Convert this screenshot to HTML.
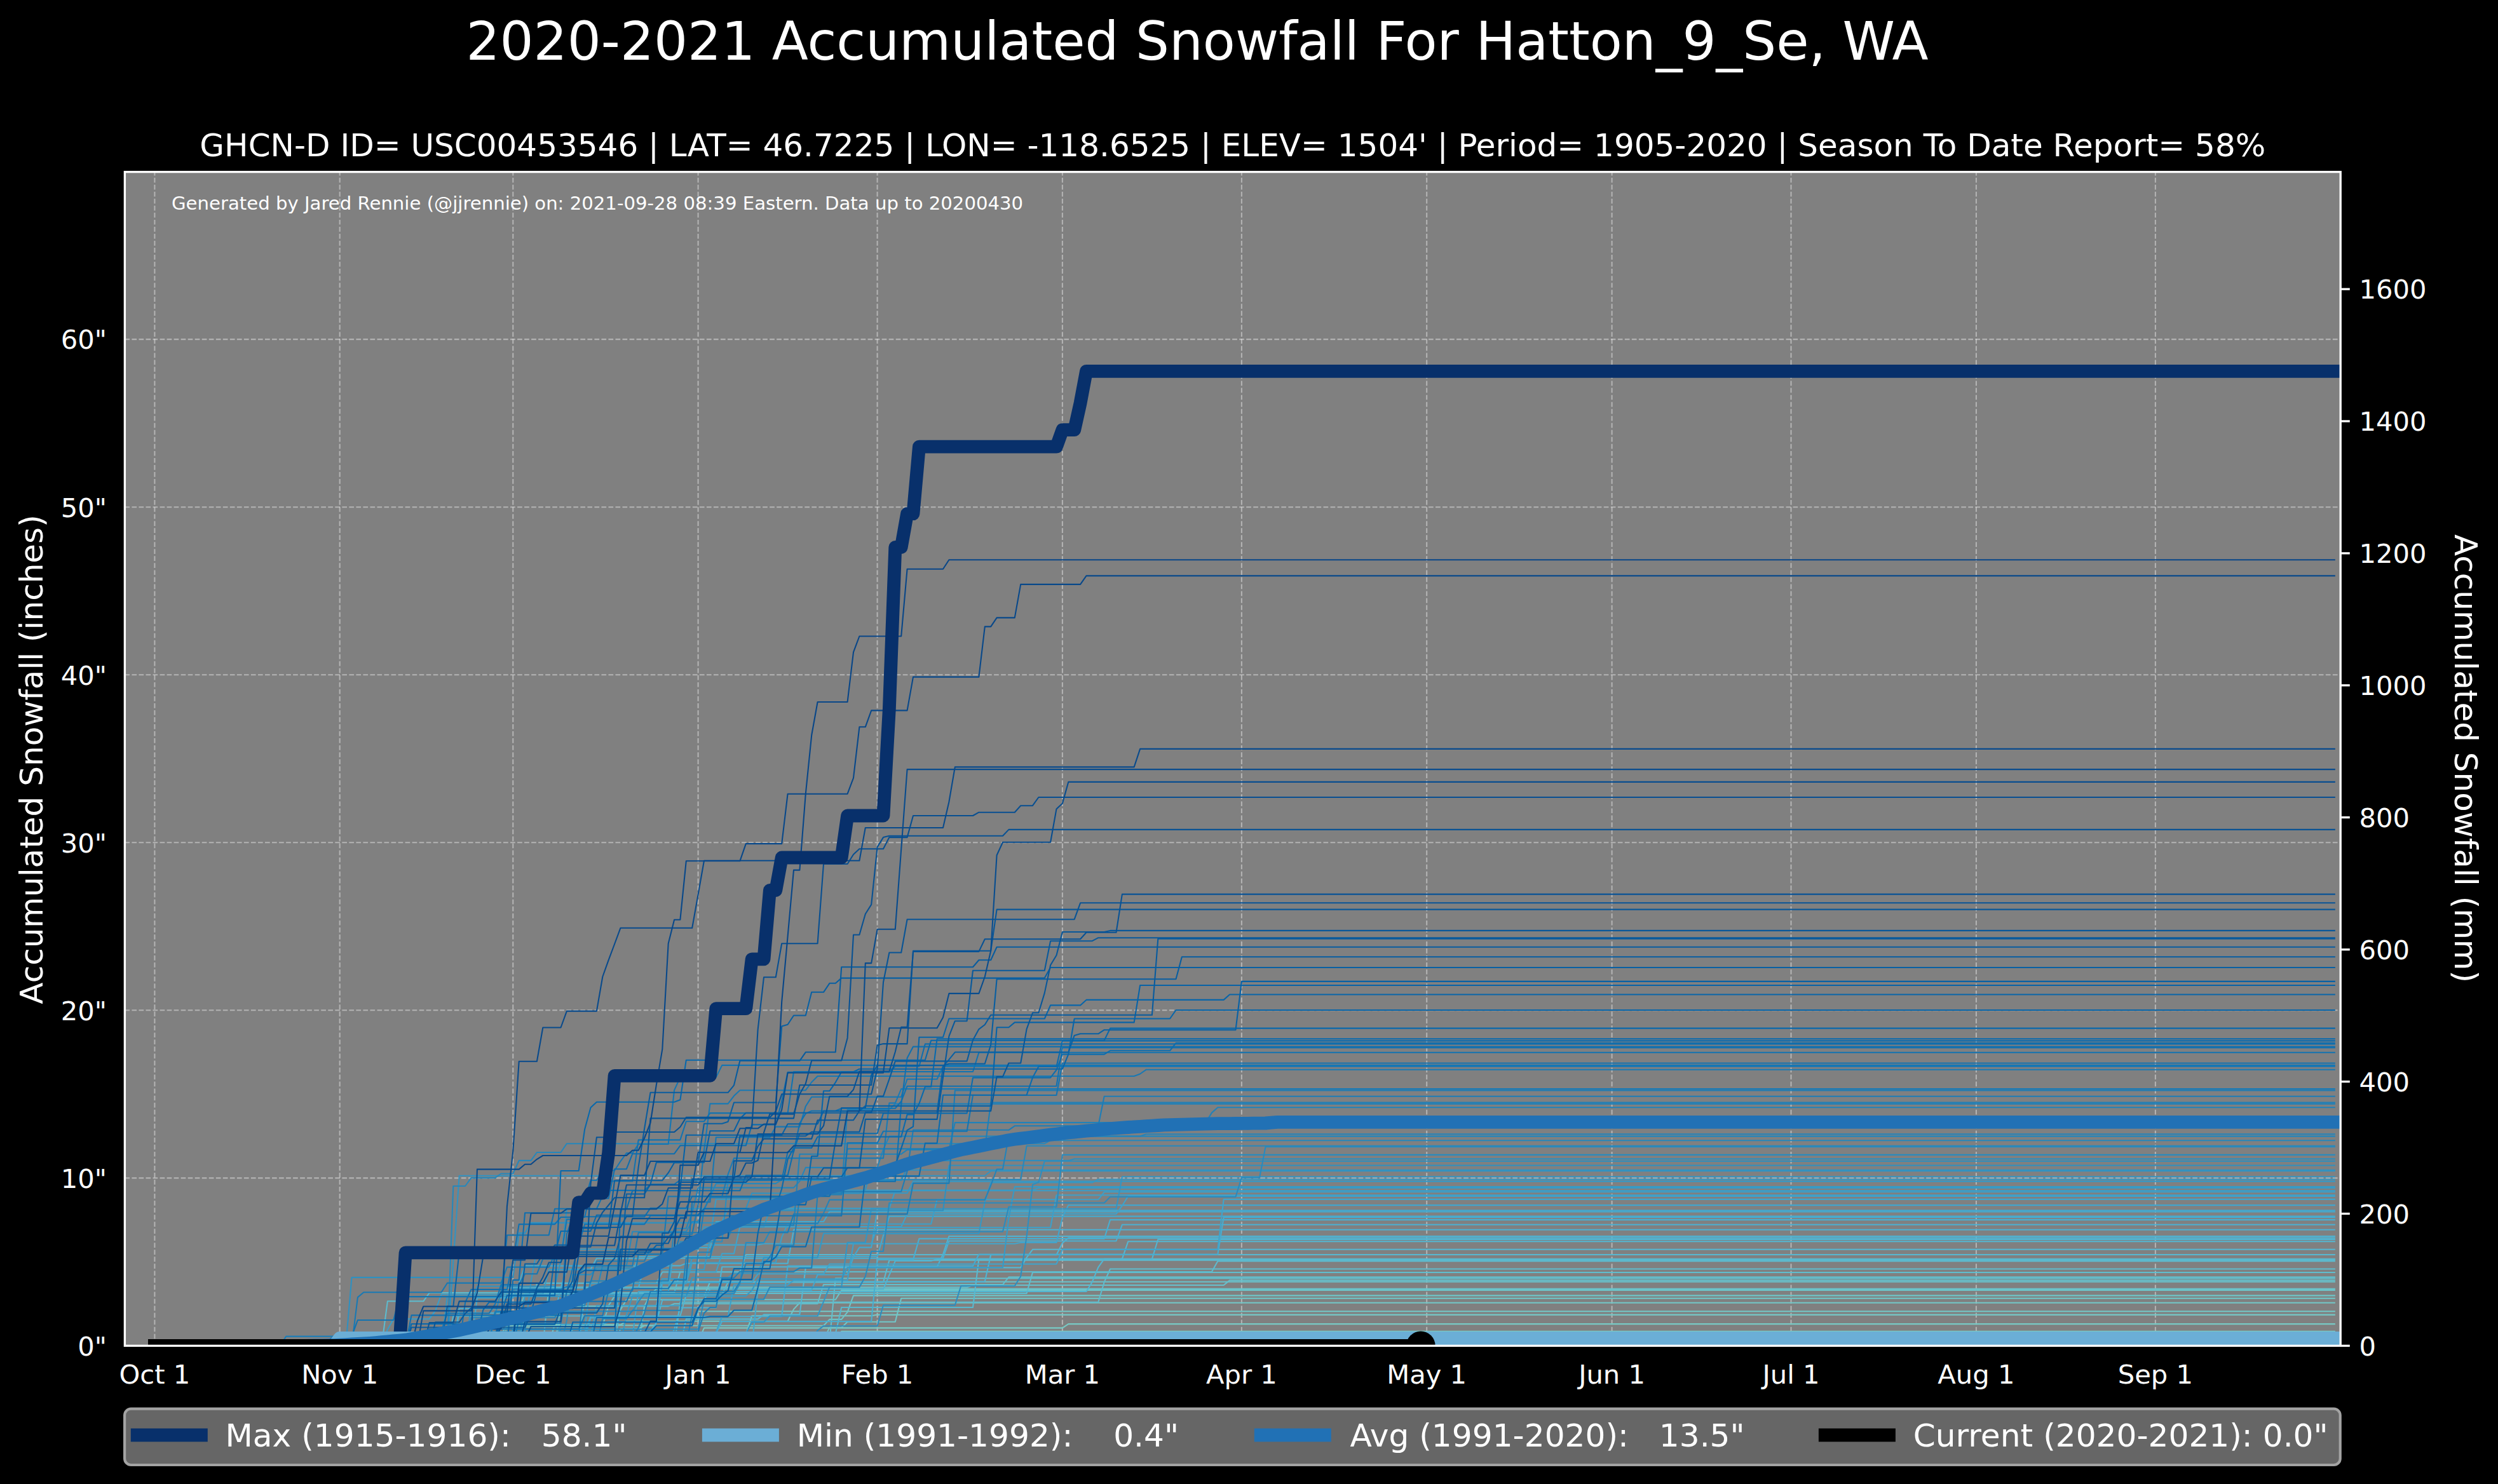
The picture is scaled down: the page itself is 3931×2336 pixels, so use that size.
<!DOCTYPE html><html><head><meta charset="utf-8"><title>Accumulated Snowfall</title>
<style>html,body{margin:0;padding:0;background:#000;}svg{display:block;}text{font-family:"DejaVu Sans","Liberation Sans",sans-serif;fill:#fff;}</style></head><body>
<svg width="3931" height="2336" viewBox="0 0 3931 2336">
<rect width="3931" height="2336" fill="#000"/>
<defs><clipPath id="ax"><rect x="196.4" y="270.6" width="3486.7999999999997" height="1847.8000000000002"/></clipPath></defs>
<rect x="196.4" y="270.6" width="3486.7999999999997" height="1847.8000000000002" fill="#808080"/>
<g clip-path="url(#ax)">
<g stroke="#fff" stroke-width="2.08" stroke-opacity="0.4" stroke-dasharray="7.7 3.33" fill="none">
<path d="M243.4 2118.4 V270.6"/>
<path d="M534.7 2118.4 V270.6"/>
<path d="M807.3 2118.4 V270.6"/>
<path d="M1098.6 2118.4 V270.6"/>
<path d="M1380.6 2118.4 V270.6"/>
<path d="M1671.9 2118.4 V270.6"/>
<path d="M1953.9 2118.4 V270.6"/>
<path d="M2245.2 2118.4 V270.6"/>
<path d="M2536.6 2118.4 V270.6"/>
<path d="M2818.5 2118.4 V270.6"/>
<path d="M3109.9 2118.4 V270.6"/>
<path d="M3391.9 2118.4 V270.6"/>
<path d="M196.4 2118.4 H3683.2"/>
<path d="M196.4 1854.4 H3683.2"/>
<path d="M196.4 1590.3 H3683.2"/>
<path d="M196.4 1326.2 H3683.2"/>
<path d="M196.4 1062.2 H3683.2"/>
<path d="M196.4 798.2 H3683.2"/>
<path d="M196.4 534.1 H3683.2"/>
</g>
<g fill="none" stroke-width="2.08" stroke-linejoin="round" stroke-linecap="square">
<path stroke="#79cbc5" d="M243.4 2118.4 L1126.8 2118.4 L1136.2 2114.8 L1314.8 2114.8 L1324.2 2095.7 L3673.8 2095.7"/>
<path stroke="#77cac5" d="M243.4 2118.4 L948.3 2118.4 L957.7 2112.4 L1098.6 2112.4 L1108 2090.4 L1671.9 2090.4 L1681.3 2084.1 L3673.8 2084.1"/>
<path stroke="#75c9c6" d="M243.4 2118.4 L854.3 2118.4 L863.7 2100.4 L1173.8 2100.4 L1183.2 2071.3 L1371.2 2071.3 L1380.6 2069.6 L3673.8 2069.6"/>
<path stroke="#73c8c7" d="M243.4 2118.4 L685.1 2118.4 L694.5 2100.7 L788.5 2100.7 L797.9 2086.3 L1089.2 2086.3 L1098.6 2064.3 L3673.8 2064.3"/>
<path stroke="#72c7c7" d="M243.4 2118.4 L760.3 2118.4 L769.7 2114.1 L863.7 2114.1 L873.1 2085.4 L976.5 2085.4 L985.9 2079.7 L1239.6 2079.7 L1249 2060.9 L1258.4 2050.8 L3673.8 2050.8"/>
<path stroke="#70c6c8" d="M243.4 2118.4 L844.9 2118.4 L854.3 2108.7 L1296 2108.7 L1305.4 2089.9 L1324.2 2089.9 L1333.6 2080.8 L1408.8 2080.8 L1418.2 2043.7 L3673.8 2043.7"/>
<path stroke="#6ec5c8" d="M243.4 2118.4 L967.1 2118.4 L976.5 2091.5 L1004.7 2091.5 L1014.1 2086.7 L1296 2086.7 L1305.4 2076.9 L1324.2 2076.9 L1333.6 2065.3 L1343 2039.4 L3673.8 2039.4"/>
<path stroke="#6cc4c9" d="M243.4 2118.4 L882.5 2118.4 L891.9 2103.8 L901.3 2092.8 L967.1 2092.8 L976.5 2061.5 L985.9 2045.8 L1314.8 2045.8 L1324.2 2031 L3673.8 2031"/>
<path stroke="#6ac3ca" d="M243.4 2118.4 L1004.7 2118.4 L1014.1 2056.1 L1023.5 2037.9 L1032.9 2028.9 L3673.8 2028.9"/>
<path stroke="#68c1ca" d="M243.4 2118.4 L788.5 2118.4 L797.9 2088.7 L920.1 2088.7 L929.5 2087.3 L948.3 2087.3 L957.7 2055 L967.1 2040.4 L1108 2040.4 L1117.4 2017.8 L3673.8 2017.8"/>
<path stroke="#66c0cb" d="M243.4 2118.4 L854.3 2118.4 L863.7 2026.4 L1521.6 2026.4 L1531 2023 L1925.7 2023 L1935.1 2015.4 L3673.8 2015.4"/>
<path stroke="#64bfcc" d="M243.4 2118.4 L797.9 2118.4 L807.3 2111 L1305.4 2111 L1314.8 2012.3 L3673.8 2012.3"/>
<path stroke="#62becc" d="M243.4 2118.4 L873.1 2118.4 L882.5 2056.1 L1051.7 2056.1 L1061.1 2052.3 L1286.6 2052.3 L1296 2022.1 L1578 2022.1 L1587.4 2010.4 L3673.8 2010.4"/>
<path stroke="#60bdcd" d="M243.4 2118.4 L807.3 2118.4 L816.7 2061.9 L826.1 2035.9 L1615.6 2035.9 L1625 2003 L3673.8 2003"/>
<path stroke="#5fbccd" d="M243.4 2118.4 L1061.1 2118.4 L1070.4 2049.8 L1728.3 2049.8 L1737.7 2018.1 L1747.1 1997.5 L3673.8 1997.5"/>
<path stroke="#5dbbce" d="M243.4 2118.4 L600.5 2118.4 L609.9 2048.3 L666.3 2048.3 L675.7 2035 L1061.1 2035 L1070.4 2002 L1906.9 2002 L1916.3 1985.3 L3673.8 1985.3"/>
<path stroke="#5bbacf" d="M243.4 2118.4 L910.7 2118.4 L920.1 2037.5 L1136.2 2037.5 L1145.6 2018.5 L1390 2018.5 L1399.4 1983.7 L3673.8 1983.7"/>
<path stroke="#59b9cf" d="M243.4 2118.4 L873.1 2118.4 L882.5 2099.3 L1314.8 2099.3 L1324.2 2058 L1531 2058 L1540.4 1981.9 L3673.8 1981.9"/>
<path stroke="#57b8d0" d="M243.4 2118.4 L816.7 2118.4 L826.1 2072.2 L835.5 2072.2 L844.9 2019.9 L1032.9 2019.9 L1042.3 2002.4 L1164.4 2002.4 L1173.8 1975 L3673.8 1975"/>
<path stroke="#55b7d1" d="M243.4 2118.4 L1070.4 2118.4 L1079.8 2076.4 L1192.6 2076.4 L1202 2069.3 L1258.4 2069.3 L1267.8 1995.4 L1606.2 1995.4 L1615.6 1979.5 L1625 1966.8 L3673.8 1966.8"/>
<path stroke="#53b6d1" d="M243.4 2118.4 L703.9 2118.4 L713.3 2071.5 L1070.4 2071.5 L1079.8 2038.4 L1089.2 2033 L1709.5 2033 L1718.9 2017.7 L1728.3 1994.8 L1737.7 1981.7 L1765.9 1981.7 L1775.3 1954.2 L3673.8 1954.2"/>
<path stroke="#51b5d2" d="M243.4 2118.4 L1014.1 2118.4 L1023.5 2095 L1032.9 2082.3 L1042.3 2046.5 L1108 2046.5 L1117.4 2029.3 L1390 2029.3 L1399.4 2007.1 L1408.8 1984.8 L1465.2 1984.8 L1474.6 1981.9 L1812.9 1981.9 L1822.3 1951 L3673.8 1951"/>
<path stroke="#4fb4d3" d="M243.4 2118.4 L967.1 2118.4 L976.5 2055 L1032.9 2055 L1042.3 2017.6 L1549.8 2017.6 L1559.2 1975.3 L1662.5 1975.3 L1671.9 1956.8 L1681.3 1948.6 L3673.8 1948.6"/>
<path stroke="#4eb3d3" d="M243.4 2118.4 L854.3 2118.4 L863.7 2115.8 L873.1 2108.6 L1051.7 2108.6 L1061.1 2093 L1070.4 2058.5 L1126.8 2058.5 L1136.2 1994.2 L1474.6 1994.2 L1484 1974.5 L1493.4 1946 L3673.8 1946"/>
<path stroke="#4cb1d2" d="M243.4 2118.4 L713.3 2118.4 L722.7 2059.7 L788.5 2059.7 L797.9 2027.4 L1004.7 2027.4 L1014.1 1992.4 L1070.4 1992.4 L1079.8 1988.7 L1239.6 1988.7 L1249 1935.7 L3673.8 1935.7"/>
<path stroke="#4bafd1" d="M243.4 2118.4 L713.3 2118.4 L722.7 2066.9 L873.1 2066.9 L882.5 2027.4 L891.9 1998 L929.5 1998 L938.9 1980.7 L1484 1980.7 L1493.4 1953.5 L1756.5 1953.5 L1765.9 1927.8 L3673.8 1927.8"/>
<path stroke="#49aed0" d="M243.4 2118.4 L816.7 2118.4 L826.1 2098.7 L1126.8 2098.7 L1136.2 2080.1 L1371.2 2080.1 L1380.6 1982.9 L1437 1982.9 L1446.4 1949.9 L1737.7 1949.9 L1747.1 1920.1 L3673.8 1920.1"/>
<path stroke="#48accf" d="M243.4 2118.4 L910.7 2118.4 L920.1 2098.4 L929.5 2072.2 L1230.2 2072.2 L1239.6 1992.8 L1531 1992.8 L1540.4 1974.6 L1916.3 1974.6 L1925.7 1916.1 L3673.8 1916.1"/>
<path stroke="#46aace" d="M243.4 2118.4 L891.9 2118.4 L901.3 2107.3 L920.1 2107.3 L929.5 2074.4 L967.1 2074.4 L976.5 2029.3 L985.9 2004.7 L995.3 2004.7 L1004.7 1978 L1380.6 1978 L1390 1945 L1399.4 1914.6 L3673.8 1914.6"/>
<path stroke="#45a9cd" d="M243.4 2118.4 L741.5 2118.4 L750.9 2042.9 L807.3 2042.9 L816.7 2019.5 L826.1 1992.6 L1051.7 1992.6 L1061.1 1963.9 L1117.4 1963.9 L1126.8 1923 L1296 1923 L1305.4 1907.4 L3673.8 1907.4"/>
<path stroke="#43a7cd" d="M243.4 2118.4 L1183.2 2118.4 L1192.6 2030.6 L1277.2 2030.6 L1286.6 2006.5 L1333.6 2006.5 L1343 1978.6 L1352.4 1963.6 L1371.2 1963.6 L1380.6 1905.3 L3673.8 1905.3"/>
<path stroke="#42a5cc" d="M243.4 2118.4 L985.9 2118.4 L995.3 2103.9 L1004.7 2033.1 L1051.7 2033.1 L1061.1 1959.6 L1192.6 1959.6 L1202 1957.7 L1596.8 1957.7 L1606.2 1955.9 L1662.5 1955.9 L1671.9 1916.4 L1681.3 1897.1 L3673.8 1897.1"/>
<path stroke="#40a4cb" d="M243.4 2118.4 L873.1 2118.4 L882.5 2084.7 L948.3 2084.7 L957.7 2080.5 L1032.9 2080.5 L1042.3 2019 L1183.2 2019 L1192.6 2005.3 L1296 2005.3 L1305.4 1989.7 L1662.5 1989.7 L1671.9 1966.9 L1916.3 1966.9 L1925.7 1887.9 L3673.8 1887.9"/>
<path stroke="#3fa2ca" d="M243.4 2118.4 L835.5 2118.4 L844.9 2105.4 L929.5 2105.4 L938.9 2055.2 L1070.4 2055.2 L1079.8 2002.2 L1126.8 2002.2 L1136.2 1973.4 L1155 1973.4 L1164.4 1931.1 L1418.2 1931.1 L1427.6 1910.9 L1756.5 1910.9 L1765.9 1898 L1775.3 1882.9 L3673.8 1882.9"/>
<path stroke="#3da0c9" d="M243.4 2118.4 L1117.4 2118.4 L1126.8 2096.9 L1136.2 2072.4 L1145.6 2072.4 L1155 2022.8 L1239.6 2022.8 L1249 2015.3 L1333.6 2015.3 L1343 1957.7 L1371.2 1957.7 L1380.6 1932.2 L1653.1 1932.2 L1662.5 1881.3 L3673.8 1881.3"/>
<path stroke="#3c9fc8" d="M243.4 2118.4 L797.9 2118.4 L807.3 2092.6 L920.1 2092.6 L929.5 2020.4 L1079.8 2020.4 L1089.2 1987.5 L1220.8 1987.5 L1230.2 1947.7 L1239.6 1926.7 L1465.2 1926.7 L1474.6 1888.3 L1728.3 1888.3 L1737.7 1876.3 L3673.8 1876.3"/>
<path stroke="#3a9dc7" d="M243.4 2118.4 L600.5 2118.4 L609.9 2092.7 L619.3 2076.2 L675.7 2076.2 L685.1 2063.2 L694.5 2037.5 L1032.9 2037.5 L1042.3 2013.1 L1079.8 2013.1 L1089.2 1979.5 L1117.4 1979.5 L1126.8 1949.3 L1136.2 1923.1 L1145.6 1902.1 L1399.4 1902.1 L1408.8 1874.2 L3673.8 1874.2"/>
<path stroke="#399bc6" d="M243.4 2118.4 L816.7 2118.4 L826.1 2036.8 L854.3 2036.8 L863.7 1998.5 L1108 1998.5 L1117.4 1949.3 L1126.8 1887.7 L1249 1887.7 L1258.4 1873.6 L1625 1873.6 L1634.4 1869.9 L3673.8 1869.9"/>
<path stroke="#379ac5" d="M243.4 2118.4 L619.3 2118.4 L628.7 2117 L976.5 2117 L985.9 2069.3 L995.3 2040.1 L1173.8 2040.1 L1183.2 2031.2 L1192.6 2013.4 L1324.2 2013.4 L1333.6 1995.2 L1578 1995.2 L1587.4 1917.7 L1596.8 1868.1 L3673.8 1868.1"/>
<path stroke="#3698c5" d="M243.4 2118.4 L732.1 2118.4 L741.5 2096.4 L826.1 2096.4 L835.5 2018 L844.9 1966.5 L1098.6 1966.5 L1108 1931.5 L1202 1931.5 L1211.4 1904.6 L1249 1904.6 L1258.4 1878 L1427.6 1878 L1437 1859.6 L3673.8 1859.6"/>
<path stroke="#3497c4" d="M243.4 2118.4 L694.5 2118.4 L703.9 2040.6 L1079.8 2040.6 L1089.2 2011.2 L1145.6 2011.2 L1155 2004.5 L1192.6 2004.5 L1202 1979.6 L1286.6 1979.6 L1296 1941.9 L1540.4 1941.9 L1549.8 1892.1 L1559.2 1861.5 L1718.9 1861.5 L1728.3 1856.5 L3673.8 1856.5"/>
<path stroke="#3395c3" d="M243.4 2118.4 L1032.9 2118.4 L1042.3 2099 L1173.8 2099 L1183.2 2081.1 L1202 2081.1 L1211.4 2071.5 L1286.6 2071.5 L1296 2049 L1305.4 2026 L1324.2 2026 L1333.6 1955.8 L1361.8 1955.8 L1371.2 1902.8 L1756.5 1902.8 L1765.9 1852.2 L3673.8 1852.2"/>
<path stroke="#3193c2" d="M243.4 2118.4 L703.9 2118.4 L713.3 1986.4 L722.7 1850.7 L1549.8 1850.7 L1559.2 1843.3 L3673.8 1843.3"/>
<path stroke="#3092c1" d="M243.4 2118.4 L732.1 2118.4 L741.5 2057.7 L750.9 2024.7 L873.1 2024.7 L882.5 1984.5 L891.9 1902.6 L1173.8 1902.6 L1183.2 1878.4 L1352.4 1878.4 L1361.8 1872.9 L1371.2 1841.7 L3673.8 1841.7"/>
<path stroke="#2f90c0" d="M243.4 2118.4 L544.1 2118.4 L553.5 2010.9 L807.3 2010.9 L816.7 1941.1 L826.1 1941.1 L835.5 1924.9 L1164.4 1924.9 L1173.8 1905.5 L1484 1905.5 L1493.4 1834.5 L3673.8 1834.5"/>
<path stroke="#2d8ebf" d="M243.4 2118.4 L873.1 2118.4 L882.5 2108.8 L1277.2 2108.8 L1286.6 2094.4 L1296 2087.2 L1380.6 2087.2 L1390 2054.6 L1502.8 2054.6 L1512.2 2024.3 L1596.8 2024.3 L1606.2 2009.2 L1615.6 1946.2 L1625 1864.8 L1634.4 1861 L1643.8 1827.7 L3673.8 1827.7"/>
<path stroke="#2c8dbe" d="M243.4 2118.4 L882.5 2118.4 L891.9 2078.8 L901.3 2006.4 L929.5 2006.4 L938.9 1996 L1023.5 1996 L1032.9 1986.5 L1061.1 1986.5 L1070.4 1954.7 L1136.2 1954.7 L1145.6 1858 L1418.2 1858 L1427.6 1838.2 L1437 1826.9 L1681.3 1826.9 L1690.7 1824.2 L3673.8 1824.2"/>
<path stroke="#2a8bbe" d="M243.4 2118.4 L769.7 2118.4 L779.1 2064.1 L995.3 2064.1 L1004.7 2048.9 L1014.1 2036.4 L1155 2036.4 L1164.4 2020.8 L1173.8 1956.1 L1202 1956.1 L1211.4 1938.7 L1578 1938.7 L1587.4 1899.8 L1662.5 1899.8 L1671.9 1817.9 L3673.8 1817.9"/>
<path stroke="#298abd" d="M243.4 2118.4 L863.7 2118.4 L873.1 2107 L882.5 2092.4 L1098.6 2092.4 L1108 2045.2 L1202 2045.2 L1211.4 2026.3 L1352.4 2026.3 L1361.8 2009.2 L1371.2 1969.7 L1390 1969.7 L1399.4 1893.5 L1737.7 1893.5 L1747.1 1884 L1944.5 1884 L1953.9 1853.7 L1982.1 1853.7 L1991.5 1805.2 L3673.8 1805.2"/>
<path stroke="#2788bc" d="M243.4 2118.4 L675.7 2118.4 L685.1 2113.1 L769.7 2113.1 L779.1 2070.4 L788.5 2032.2 L938.9 2032.2 L948.3 1992.1 L985.9 1992.1 L995.3 1938.8 L1079.8 1938.8 L1089.2 1923.1 L1098.6 1923.1 L1108 1904.2 L1117.4 1884 L1126.8 1863.1 L1220.8 1863.1 L1230.2 1856.9 L1606.2 1856.9 L1615.6 1803.7 L3673.8 1803.7"/>
<path stroke="#2687bb" d="M243.4 2118.4 L703.9 2118.4 L713.3 1867 L732.1 1867 L741.5 1854.1 L779.1 1854.1 L788.5 1847.5 L807.3 1847.5 L816.7 1826.9 L835.5 1826.9 L844.9 1814 L882.5 1814 L891.9 1800.2 L1643.8 1800.2 L1653.1 1795.2 L3673.8 1795.2"/>
<path stroke="#2485bb" d="M243.4 2118.4 L732.1 2118.4 L741.5 2074.3 L873.1 2074.3 L882.5 2055.2 L920.1 2055.2 L929.5 2016.4 L1051.7 2016.4 L1061.1 1933.7 L1079.8 1933.7 L1089.2 1908.8 L1098.6 1869.6 L1249 1869.6 L1258.4 1859.4 L1267.8 1837.9 L1380.6 1837.9 L1390 1809.4 L1399.4 1788.6 L3673.8 1788.6"/>
<path stroke="#2383ba" d="M243.4 2118.4 L1079.8 2118.4 L1089.2 2068.6 L1098.6 1971.3 L1117.4 1971.3 L1126.8 1948.9 L1145.6 1948.9 L1155 1925.9 L1286.6 1925.9 L1296 1909.7 L1305.4 1888.6 L1549.8 1888.6 L1559.2 1866 L1568.6 1840.5 L1578 1840.5 L1587.4 1788.5 L1794.1 1788.5 L1803.5 1785.2 L3673.8 1785.2"/>
<path stroke="#2182b9" d="M243.4 2118.4 L938.9 2118.4 L948.3 2075.8 L985.9 2075.8 L995.3 2062.7 L1070.4 2062.7 L1079.8 1980.2 L1117.4 1980.2 L1126.8 1938.6 L1136.2 1928.6 L1249 1928.6 L1258.4 1816.7 L1418.2 1816.7 L1427.6 1809.9 L1493.4 1809.9 L1502.8 1767.1 L1897.5 1767.1 L1906.9 1751.6 L1916.3 1743.2 L3673.8 1743.2"/>
<path stroke="#2080b8" d="M243.4 2118.4 L891.9 2118.4 L901.3 2104.5 L995.3 2104.5 L1004.7 2090 L1014.1 2067 L1023.5 2032.7 L1155 2032.7 L1164.4 2017.7 L1173.8 1989.1 L1202 1989.1 L1211.4 1978.9 L1220.8 1960.2 L1249 1960.2 L1258.4 1883 L1267.8 1878.2 L1324.2 1878.2 L1333.6 1746.6 L1399.4 1746.6 L1408.8 1737.6 L3673.8 1737.6"/>
<path stroke="#1e7fb7" d="M243.4 2118.4 L873.1 2118.4 L882.5 2096.4 L1098.6 2096.4 L1108 2067.1 L1117.4 2058 L1126.8 2058 L1136.2 2011.6 L1155 2011.6 L1164.4 2001.6 L1249 2001.6 L1258.4 1996 L1277.2 1996 L1286.6 1880.5 L1324.2 1880.5 L1333.6 1808.4 L1549.8 1808.4 L1559.2 1735.5 L3673.8 1735.5"/>
<path stroke="#1d7db7" d="M243.4 2118.4 L440.8 2118.4 L450.2 2103.6 L910.7 2103.6 L920.1 2018.5 L929.5 2018.5 L938.9 1985.2 L1014.1 1985.2 L1023.5 1965.2 L1098.6 1965.2 L1108 1903.1 L1117.4 1885.3 L1249 1885.3 L1258.4 1875.7 L1418.2 1875.7 L1427.6 1843.9 L1437 1778.8 L1587.4 1778.8 L1596.8 1772.3 L1728.3 1772.3 L1737.7 1725.8 L3673.8 1725.8"/>
<path stroke="#1b7cb6" d="M243.4 2118.4 L760.3 2118.4 L769.7 2112.5 L779.1 2065.1 L797.9 2065.1 L807.3 2029.3 L882.5 2029.3 L891.9 2025.6 L901.3 2025.6 L910.7 2004.6 L920.1 1992.6 L995.3 1992.6 L1004.7 1940.2 L1239.6 1940.2 L1249 1911.1 L1427.6 1911.1 L1437 1862.6 L1493.4 1862.6 L1502.8 1716.5 L3673.8 1716.5"/>
<path stroke="#1a7ab5" d="M243.4 2118.4 L619.3 2118.4 L628.7 2101.9 L703.9 2101.9 L713.3 2092.1 L910.7 2092.1 L920.1 2071.2 L948.3 2071.2 L957.7 2031.5 L995.3 2031.5 L1004.7 1974 L1042.3 1974 L1051.7 1883.4 L1136.2 1883.4 L1145.6 1848.6 L1155 1823.1 L1390 1823.1 L1399.4 1736.4 L1408.8 1736.4 L1418.2 1714.1 L3673.8 1714.1"/>
<path stroke="#1879b4" d="M243.4 2118.4 L553.5 2118.4 L562.9 2042.1 L572.3 2034.2 L694.5 2034.2 L703.9 2019.6 L788.5 2019.6 L797.9 1994.6 L863.7 1994.6 L873.1 1974.5 L1061.1 1974.5 L1070.4 1942.8 L1089.2 1942.8 L1098.6 1895.9 L1108 1810.9 L1117.4 1737.4 L1145.6 1737.4 L1155 1725.1 L1164.4 1716.2 L1267.8 1716.2 L1277.2 1703.5 L1286.6 1694 L1784.7 1694 L1794.1 1690.5 L1803.5 1683.8 L3673.8 1683.8"/>
<path stroke="#1777b4" d="M243.4 2118.4 L807.3 2118.4 L816.7 2077.2 L826.1 2048.6 L985.9 2048.6 L995.3 2028.2 L1051.7 2028.2 L1061.1 2014.5 L1079.8 2014.5 L1089.2 1892.2 L1117.4 1892.2 L1126.8 1790.2 L1211.4 1790.2 L1220.8 1773.6 L1258.4 1773.6 L1267.8 1741.5 L1277.2 1726.7 L1418.2 1726.7 L1427.6 1698.7 L1474.6 1698.7 L1484 1678.8 L3673.8 1678.8"/>
<path stroke="#1576b3" d="M243.4 2118.4 L685.1 2118.4 L694.5 2095.1 L703.9 2067.2 L769.7 2067.2 L779.1 2052.9 L788.5 2022.4 L816.7 2022.4 L826.1 2005.3 L844.9 2005.3 L854.3 1981.7 L882.5 1981.7 L891.9 1919.4 L910.7 1919.4 L920.1 1889.5 L929.5 1858 L938.9 1858 L948.3 1842.5 L967.1 1842.5 L976.5 1828 L985.9 1815.1 L995.3 1815.1 L1004.7 1801 L1051.7 1801 L1061.1 1716.1 L1070.4 1695.9 L1126.8 1695.9 L1136.2 1676.9 L3673.8 1676.9"/>
<path stroke="#1474b2" d="M243.4 2118.4 L722.7 2118.4 L732.1 2114.3 L779.1 2114.3 L788.5 2082.7 L882.5 2082.7 L891.9 2032.5 L901.3 1995.7 L910.7 1959.4 L920.1 1927.1 L1014.1 1927.1 L1023.5 1913.8 L1324.2 1913.8 L1333.6 1799 L1380.6 1799 L1390 1780.8 L1521.6 1780.8 L1531 1724 L1662.5 1724 L1671.9 1673.5 L3673.8 1673.5"/>
<path stroke="#1273b1" d="M243.4 2118.4 L506.5 2118.4 L515.9 2110.5 L525.3 2103.6 L553.5 2103.6 L562.9 2078 L619.3 2078 L628.7 2041.1 L788.5 2041.1 L797.9 1944.2 L863.7 1944.2 L873.1 1902.7 L938.9 1902.7 L948.3 1882.6 L957.7 1859.3 L995.3 1859.3 L1004.7 1794.4 L1070.4 1794.4 L1079.8 1765.2 L1108 1765.2 L1117.4 1752.1 L1239.6 1752.1 L1249 1687 L1531 1687 L1540.4 1656.8 L3673.8 1656.8"/>
<path stroke="#1171b1" d="M243.4 2118.4 L722.7 2118.4 L732.1 2050.3 L741.5 2029.9 L797.9 2029.9 L807.3 1984.1 L816.7 1927.1 L873.1 1927.1 L882.5 1916 L920.1 1916 L929.5 1873.9 L1014.1 1873.9 L1023.5 1864.4 L1061.1 1864.4 L1070.4 1857.6 L1230.2 1857.6 L1239.6 1813.1 L1249 1813.1 L1258.4 1768.3 L1267.8 1752.9 L1277.2 1748.7 L1314.8 1748.7 L1324.2 1744.7 L1408.8 1744.7 L1418.2 1733.8 L1427.6 1709.7 L1662.5 1709.7 L1671.9 1649.2 L3673.8 1649.2"/>
<path stroke="#1070b0" d="M243.4 2118.4 L638.1 2118.4 L647.5 2070.4 L882.5 2070.4 L891.9 1942.5 L901.3 1915.3 L1014.1 1915.3 L1023.5 1901.7 L1079.8 1901.7 L1089.2 1883.1 L1305.4 1883.1 L1314.8 1859.8 L1408.8 1859.8 L1418.2 1738.9 L1427.6 1665.6 L1437 1647.6 L3673.8 1647.6"/>
<path stroke="#0e6eaf" d="M243.4 2118.4 L797.9 2118.4 L807.3 2014.9 L816.7 2014.9 L826.1 1909.2 L901.3 1909.2 L910.7 1886.5 L957.7 1886.5 L967.1 1840.2 L985.9 1840.2 L995.3 1816.2 L1061.1 1816.2 L1070.4 1803.3 L1173.8 1803.3 L1183.2 1770.4 L1220.8 1770.4 L1230.2 1733.5 L1239.6 1687.7 L1399.4 1687.7 L1408.8 1678.4 L1446.4 1678.4 L1455.8 1643.4 L3673.8 1643.4"/>
<path stroke="#0d6dae" d="M243.4 2118.4 L854.3 2118.4 L863.7 2109.2 L873.1 2109.2 L882.5 2106.3 L967.1 2106.3 L976.5 1903.5 L985.9 1903.5 L995.3 1874.3 L1164.4 1874.3 L1173.8 1850.4 L1239.6 1850.4 L1249 1811.6 L1258.4 1784.2 L1380.6 1784.2 L1390 1752.4 L1521.6 1752.4 L1531 1696.4 L1653.1 1696.4 L1662.5 1684.1 L1671.9 1659.6 L1737.7 1659.6 L1747.1 1653.8 L1841.1 1653.8 L1850.5 1641.8 L3673.8 1641.8"/>
<path stroke="#0b6bae" d="M243.4 2118.4 L929.5 2118.4 L938.9 2074 L1108 2074 L1117.4 2072.4 L1145.6 2072.4 L1155 2062.5 L1183.2 2062.5 L1192.6 2027 L1202 1985.9 L1211.4 1985.9 L1220.8 1978.8 L1230.2 1962.5 L1267.8 1962.5 L1277.2 1931.5 L1352.4 1931.5 L1361.8 1851.4 L1446.4 1851.4 L1455.8 1799.6 L1474.6 1799.6 L1484 1723.7 L1615.6 1723.7 L1625 1696.3 L1634.4 1678.9 L1662.5 1678.9 L1671.9 1638.4 L3673.8 1638.4"/>
<path stroke="#0a6aad" d="M243.4 2118.4 L741.5 2118.4 L750.9 2102.6 L760.3 2061.8 L769.7 2049.8 L863.7 2049.8 L873.1 1975.8 L882.5 1938 L929.5 1938 L938.9 1912.7 L1098.6 1912.7 L1108 1902.6 L1211.4 1902.6 L1220.8 1900.4 L1230.2 1871.5 L1239.6 1824.8 L1249 1806.9 L1277.2 1806.9 L1286.6 1789.5 L1418.2 1789.5 L1427.6 1754.4 L1437 1754.4 L1446.4 1737.3 L1455.8 1710.8 L1465.2 1710.8 L1474.6 1635.2 L3673.8 1635.2"/>
<path stroke="#0868ac" d="M243.4 2118.4 L638.1 2118.4 L647.5 2084 L779.1 2084 L788.5 2069.3 L797.9 2039.2 L873.1 2039.2 L882.5 1843 L910.7 1843 L920.1 1777.8 L929.5 1743.4 L938.9 1734.7 L1061.1 1734.7 L1070.4 1731.3 L1079.8 1668.7 L1455.8 1668.7 L1465.2 1637.8 L1737.7 1637.8 L1747.1 1618.6 L3673.8 1618.6"/>
<path stroke="#0866aa" d="M243.4 2118.4 L891.9 2118.4 L901.3 2081.3 L1089.2 2081.3 L1098.6 2058.9 L1108 2048.3 L1126.8 2048.3 L1136.2 2038.7 L1145.6 2031.9 L1155 1997.1 L1211.4 1997.1 L1220.8 1945.1 L1230.2 1888.6 L1267.8 1888.6 L1277.2 1820 L1286.6 1820 L1296 1717.3 L1305.4 1717.3 L1314.8 1703.8 L1324.2 1687.2 L1343 1687.2 L1352.4 1682.7 L1671.9 1682.7 L1681.3 1659.5 L1690.7 1603.5 L1841.1 1603.5 L1850.5 1590 L3673.8 1590"/>
<path stroke="#0865a9" d="M243.4 2118.4 L929.5 2118.4 L938.9 2096.5 L1023.5 2096.5 L1032.9 2086.7 L1089.2 2086.7 L1098.6 2060.8 L1108 2044.4 L1126.8 2044.4 L1136.2 2014.1 L1183.2 2014.1 L1192.6 1941.9 L1202 1896.4 L1267.8 1896.4 L1277.2 1852.5 L1324.2 1852.5 L1333.6 1838.2 L1390 1838.2 L1399.4 1834.6 L1408.8 1834.6 L1418.2 1807.7 L1427.6 1779.2 L1437 1773.4 L1446.4 1632.7 L1484 1632.7 L1493.4 1603.5 L1643.8 1603.5 L1653.1 1582.4 L1700.1 1582.4 L1709.5 1573.9 L1925.7 1573.9 L1935.1 1565.5 L3673.8 1565.5"/>
<path stroke="#0863a7" d="M243.4 2118.4 L694.5 2118.4 L703.9 2056.3 L713.3 2056.3 L722.7 1970.9 L1023.5 1970.9 L1032.9 1960.3 L1042.3 1960.3 L1051.7 1947.9 L1061.1 1937.7 L1070.4 1871.6 L1079.8 1786.7 L1230.2 1786.7 L1239.6 1769.2 L1286.6 1769.2 L1296 1748.9 L1352.4 1748.9 L1361.8 1740.9 L1559.2 1740.9 L1568.6 1617.2 L1587.4 1617.2 L1596.8 1609.4 L1784.7 1609.4 L1794.1 1551 L3673.8 1551"/>
<path stroke="#0861a5" d="M243.4 2118.4 L703.9 2118.4 L713.3 2084.7 L873.1 2084.7 L882.5 2059.5 L901.3 2059.5 L910.7 2005 L920.1 1999.8 L976.5 1999.8 L985.9 1879.5 L1014.1 1879.5 L1023.5 1864.2 L1032.9 1829.7 L1108 1829.7 L1117.4 1780.3 L1155 1780.3 L1164.4 1760.9 L1173.8 1751.7 L1474.6 1751.7 L1484 1679 L1493.4 1667.9 L1502.8 1656.3 L1681.3 1656.3 L1690.7 1629.9 L1700.1 1627.3 L1728.3 1627.3 L1737.7 1621.2 L1944.5 1621.2 L1953.9 1544.9 L3673.8 1544.9"/>
<path stroke="#0860a3" d="M243.4 2118.4 L779.1 2118.4 L788.5 2064.2 L816.7 2064.2 L826.1 1989.5 L844.9 1989.5 L854.3 1974.3 L863.7 1974.3 L873.1 1959.8 L901.3 1959.8 L910.7 1933.4 L957.7 1933.4 L967.1 1858.2 L1042.3 1858.2 L1051.7 1846.2 L1061.1 1830.3 L1098.6 1830.3 L1108 1768.7 L1136.2 1768.7 L1145.6 1765.7 L1155 1735.5 L1220.8 1735.5 L1230.2 1615.6 L1239.6 1612.7 L1249 1598.5 L1267.8 1598.5 L1277.2 1561.8 L1296 1561.8 L1305.4 1547.8 L1314.8 1547.8 L1324.2 1539.6 L1643.8 1539.6 L1653.1 1523 L3673.8 1523"/>
<path stroke="#085ea1" d="M243.4 2118.4 L713.3 2118.4 L722.7 2103.9 L779.1 2103.9 L788.5 2066.6 L938.9 2066.6 L948.3 2052.2 L957.7 1991.3 L967.1 1980.8 L976.5 1946.2 L1098.6 1946.2 L1108 1855.5 L1305.4 1855.5 L1314.8 1795.9 L1324.2 1744 L1361.8 1744 L1371.2 1692.2 L1380.6 1677.3 L1484 1677.3 L1493.4 1674.5 L1549.8 1674.5 L1559.2 1644.7 L1568.6 1541.3 L1850.5 1541.3 L1859.9 1506.3 L3673.8 1506.3"/>
<path stroke="#085c9f" d="M243.4 2118.4 L638.1 2118.4 L647.5 2089.5 L826.1 2089.5 L835.5 2067 L844.9 2032 L891.9 2032 L901.3 2015.9 L910.7 1932 L976.5 1932 L985.9 1914.8 L995.3 1914.8 L1004.7 1836.7 L1014.1 1776.6 L1023.5 1719.8 L1145.6 1719.8 L1155 1708.3 L1164.4 1669.8 L1258.4 1669.8 L1267.8 1656.3 L1314.8 1656.3 L1324.2 1522.2 L1531 1522.2 L1540.4 1511.3 L1559.2 1511.3 L1568.6 1490.8 L3673.8 1490.8"/>
<path stroke="#085b9e" d="M243.4 2118.4 L732.1 2118.4 L741.5 2104.2 L807.3 2104.2 L816.7 2031 L901.3 2031 L910.7 1974.5 L1014.1 1974.5 L1023.5 1957.3 L1051.7 1957.3 L1061.1 1935.7 L1070.4 1917.4 L1079.8 1917.4 L1089.2 1855.8 L1155 1855.8 L1164.4 1788.2 L1267.8 1788.2 L1277.2 1781.8 L1352.4 1781.8 L1361.8 1751.1 L1371.2 1751.1 L1380.6 1725.6 L1390 1725.6 L1399.4 1698.6 L1408.8 1670.4 L1521.6 1670.4 L1531 1637.2 L1540.4 1620.1 L1549.8 1613 L1559.2 1597.8 L1812.9 1597.8 L1822.3 1477.8 L3673.8 1477.8"/>
<path stroke="#08599c" d="M243.4 2118.4 L910.7 2118.4 L920.1 2109.1 L985.9 2109.1 L995.3 2098.1 L1014.1 2098.1 L1023.5 2079.8 L1032.9 2079.8 L1042.3 1941 L1051.7 1941 L1061.1 1923.2 L1070.4 1860.9 L1173.8 1860.9 L1183.2 1852.3 L1286.6 1852.3 L1296 1838.5 L1352.4 1838.5 L1361.8 1761.9 L1474.6 1761.9 L1484 1695.9 L1493.4 1631.2 L1502.8 1607.2 L1521.6 1607.2 L1531 1527.7 L1643.8 1527.7 L1653.1 1481.2 L1718.9 1481.2 L1728.3 1476.2 L3673.8 1476.2"/>
<path stroke="#08579a" d="M243.4 2118.4 L675.7 2118.4 L685.1 2081.3 L722.7 2081.3 L732.1 2067.5 L741.5 2058.9 L967.1 2058.9 L976.5 1966.5 L1070.4 1966.5 L1079.8 1948.8 L1145.6 1948.8 L1155 1827.4 L1183.2 1827.4 L1192.6 1804.3 L1202 1792.6 L1277.2 1792.6 L1286.6 1763.2 L1343 1763.2 L1352.4 1748.7 L1559.2 1748.7 L1568.6 1694.9 L1578 1694.9 L1587.4 1673.5 L1606.2 1673.5 L1615.6 1619.9 L1625 1594.3 L1634.4 1594.3 L1643.8 1563.1 L1653.1 1519.3 L1662.5 1503.7 L1671.9 1467 L1737.7 1467 L1747.1 1464.9 L3673.8 1464.9"/>
<path stroke="#085698" d="M243.4 2118.4 L609.9 2118.4 L619.3 2112.5 L779.1 2112.5 L788.5 2087.4 L797.9 2052.6 L835.5 2052.6 L844.9 2027.2 L854.3 2010.4 L863.7 1987.3 L882.5 1987.3 L891.9 1962.7 L929.5 1962.7 L938.9 1925.1 L948.3 1908.3 L957.7 1897 L967.1 1885.3 L1014.1 1885.3 L1023.5 1760.4 L1249 1760.4 L1258.4 1708 L1371.2 1708 L1380.6 1645.2 L1390 1643.1 L1427.6 1643.1 L1437 1496.8 L1559.2 1496.8 L1568.6 1431.6 L3673.8 1431.6"/>
<path stroke="#085496" d="M243.4 2118.4 L666.3 2118.4 L675.7 2082 L713.3 2082 L722.7 2048.4 L779.1 2048.4 L788.5 2033.9 L920.1 2033.9 L929.5 1863.7 L938.9 1790.3 L957.7 1790.3 L967.1 1782 L1061.1 1782 L1070.4 1774 L1079.8 1758.9 L1211.4 1758.9 L1220.8 1749.5 L1230.2 1722.3 L1371.2 1722.3 L1380.6 1682.7 L1390 1546.2 L1399.4 1499.5 L1418.2 1499.5 L1427.6 1447.2 L1690.7 1447.2 L1700.1 1421.3 L3673.8 1421.3"/>
<path stroke="#085295" d="M243.4 2118.4 L816.7 2118.4 L826.1 2080.3 L882.5 2080.3 L891.9 1960.5 L967.1 1960.5 L976.5 1910.3 L985.9 1865.2 L1098.6 1865.2 L1108 1852.6 L1183.2 1852.6 L1192.6 1785 L1286.6 1785 L1296 1772.2 L1305.4 1725.8 L1333.6 1725.8 L1343 1715.2 L1352.4 1686.4 L1399.4 1686.4 L1408.8 1655.7 L1418.2 1616.7 L1427.6 1616.7 L1437 1497.9 L1540.4 1497.9 L1549.8 1478.3 L1700.1 1478.3 L1709.5 1467.8 L1756.5 1467.8 L1765.9 1407.6 L3673.8 1407.6"/>
<path stroke="#085193" d="M243.4 2118.4 L694.5 2118.4 L703.9 2109.1 L826.1 2109.1 L835.5 2088.2 L967.1 2088.2 L976.5 2053.2 L985.9 1953.5 L995.3 1918.1 L1061.1 1918.1 L1070.4 1891.9 L1108 1891.9 L1117.4 1878.7 L1145.6 1878.7 L1155 1853.4 L1164.4 1849.9 L1173.8 1830.7 L1183.2 1830.7 L1192.6 1826.7 L1202 1782.9 L1211.4 1753.6 L1249 1753.6 L1258.4 1722.3 L1267.8 1705.7 L1277.2 1669.5 L1324.2 1669.5 L1333.6 1633.9 L1343 1471.5 L1352.4 1471.5 L1361.8 1438.7 L1371.2 1423.9 L1380.6 1333.4 L1390 1318.1 L1399.4 1315.7 L1578 1315.7 L1587.4 1305.9 L3673.8 1305.9"/>
<path stroke="#084f91" d="M243.4 2118.4 L656.9 2118.4 L666.3 2101.4 L675.7 2092.6 L760.3 2092.6 L769.7 2073.7 L788.5 2073.7 L797.9 2066.5 L807.3 1983.4 L826.1 1983.4 L835.5 1909.8 L882.5 1909.8 L891.9 1903.1 L1032.9 1903.1 L1042.3 1895.2 L1051.7 1870 L1089.2 1870 L1098.6 1813.9 L1164.4 1813.9 L1173.8 1775.1 L1183.2 1775.1 L1192.6 1620.9 L1202 1538.3 L1220.8 1538.3 L1230.2 1485.2 L1286.6 1485.2 L1296 1360 L1333.6 1360 L1343 1345 L1352.4 1336.3 L1390 1336.3 L1399.4 1318.1 L1427.6 1318.1 L1437 1284 L1531 1284 L1540.4 1278.7 L1596.8 1278.7 L1606.2 1268.2 L1625 1268.2 L1634.4 1255 L3673.8 1255"/>
<path stroke="#084d8f" d="M243.4 2118.4 L807.3 2118.4 L816.7 2019.9 L854.3 2019.9 L863.7 2002.4 L891.9 2002.4 L901.3 1945.7 L957.7 1945.7 L967.1 1898.8 L976.5 1850.1 L1014.1 1850.1 L1023.5 1828 L1117.4 1828 L1126.8 1800.2 L1155 1800.2 L1164.4 1776.3 L1192.6 1776.3 L1202 1769.5 L1220.8 1769.5 L1230.2 1747.2 L1239.6 1688.7 L1390 1688.7 L1399.4 1618.2 L1474.6 1618.2 L1484 1601.6 L1493.4 1563.9 L1540.4 1563.9 L1549.8 1537.5 L1559.2 1496.8 L1568.6 1346.3 L1578 1325.7 L1653.1 1325.7 L1662.5 1273.4 L1671.9 1264.7 L1681.3 1230.9 L3673.8 1230.9"/>
<path stroke="#084b8d" d="M243.4 2118.4 L656.9 2118.4 L666.3 2063.4 L741.5 2063.4 L750.9 2035.2 L760.3 1977.8 L995.3 1977.8 L1004.7 1967.7 L1061.1 1967.7 L1070.4 1834.1 L1098.6 1834.1 L1108 1814.3 L1239.6 1814.3 L1249 1803.6 L1324.2 1803.6 L1333.6 1748.7 L1352.4 1748.7 L1361.8 1516.1 L1371.2 1516.1 L1380.6 1462.8 L1408.8 1462.8 L1418.2 1336.8 L1427.6 1211.1 L3673.8 1211.1"/>
<path stroke="#084a8c" d="M243.4 2118.4 L685.1 2118.4 L694.5 2112.4 L760.3 2112.4 L769.7 2092 L788.5 2092 L797.9 1899.2 L807.3 1812.1 L816.7 1670.8 L844.9 1670.8 L854.3 1617.5 L882.5 1617.5 L891.9 1591.6 L938.9 1591.6 L948.3 1537.5 L957.7 1511.1 L967.1 1486 L976.5 1460.7 L1089.2 1460.7 L1098.6 1408.1 L1108 1354.8 L1352.4 1354.8 L1361.8 1303 L1484 1303 L1493.4 1262.3 L1502.8 1207.4 L1784.7 1207.4 L1794.1 1178.9 L3673.8 1178.9"/>
<path stroke="#08488a" d="M243.4 2118.4 L741.5 2118.4 L750.9 1840.6 L816.7 1840.6 L826.1 1832.7 L835.5 1832.7 L844.9 1824.8 L854.3 1819 L985.9 1819 L995.3 1810.8 L1004.7 1810.8 L1014.1 1791.5 L1023.5 1767.5 L1032.9 1707.5 L1042.3 1651.6 L1051.7 1485.2 L1061.1 1447.7 L1070.4 1447.7 L1079.8 1355.3 L1164.4 1355.3 L1173.8 1328.1 L1230.2 1328.1 L1239.6 1249.7 L1333.6 1249.7 L1343 1224.6 L1352.4 1144.3 L1361.8 1144.3 L1371.2 1118.4 L1427.6 1118.4 L1437 1065.6 L1540.4 1065.6 L1549.8 986.4 L1559.2 986.4 L1568.6 972.4 L1596.8 972.4 L1606.2 919.9 L1700.1 919.9 L1709.5 906.4 L3673.8 906.4"/>
<path stroke="#084688" d="M243.4 2118.4 L647.5 2118.4 L656.9 2079.1 L666.3 2056.5 L816.7 2056.5 L826.1 2050.4 L891.9 2050.4 L901.3 2032.7 L910.7 2001.7 L920.1 1990.1 L948.3 1990.1 L957.7 1947.7 L1070.4 1947.7 L1079.8 1907.2 L1211.4 1907.2 L1220.8 1748.7 L1230.2 1577.1 L1239.6 1474.1 L1249 1369.6 L1258.4 1369.6 L1267.8 1249.7 L1277.2 1157.3 L1286.6 1105 L1333.6 1105 L1343 1026.6 L1352.4 1001.5 L1418.2 1001.5 L1427.6 895.8 L1484 895.8 L1493.4 881.3 L3673.8 881.3"/>
</g>
<g fill="none" stroke-width="20.83" stroke-linejoin="round" stroke-linecap="square">
<path stroke="#08306b" d="M243.4 2118.4 L628.7 2118.4 L638.1 1971.9 L901.3 1971.9 L910.7 1892.6 L920.1 1892.6 L929.5 1878.1 L948.3 1878.1 L957.7 1814.7 L967.1 1693.3 L1117.4 1693.3 L1126.8 1587.7 L1173.8 1587.7 L1183.2 1509.8 L1202 1509.8 L1211.4 1401.5 L1220.8 1401.5 L1230.2 1350 L1324.2 1350 L1333.6 1284 L1390 1284 L1399.4 1115 L1408.8 861.5 L1418.2 861.5 L1427.6 808.7 L1437 808.7 L1446.4 703.1 L1662.5 703.1 L1671.9 676.7 L1690.7 676.7 L1700.1 634.4 L1709.5 584.3 L3673.8 584.3"/>
<path stroke="#6baed6" d="M243.4 2118.4 L525.3 2118.4 L534.7 2106.5 L3673.8 2106.5"/>
<path stroke="#2171b5" d="M243.4 2118.4 L469 2118.4 L478.4 2118.3 L487.7 2118.1 L497.1 2118 L506.5 2117.9 L515.9 2117.7 L525.3 2117.6 L534.7 2117.1 L544.1 2116.6 L553.5 2116 L562.9 2115.5 L572.3 2115 L581.7 2114.4 L591.1 2113.6 L600.5 2112.7 L609.9 2111.8 L619.3 2110.9 L628.7 2110 L638.1 2109.2 L647.5 2107.5 L656.9 2105.9 L666.3 2104.2 L675.7 2102.6 L685.1 2100.8 L694.5 2099.1 L703.9 2097.3 L713.3 2095.6 L722.7 2093.7 L732.1 2091.6 L741.5 2089.5 L750.9 2087.4 L760.3 2085.3 L769.7 2083.1 L779.1 2081 L788.5 2078.9 L797.9 2076.8 L807.3 2074.5 L816.7 2072.2 L826.1 2069.9 L835.5 2067.5 L844.9 2065.2 L854.3 2062.9 L863.7 2060.5 L873.1 2058.2 L882.5 2055.6 L891.9 2051.8 L901.3 2048.1 L910.7 2044.3 L920.1 2040.6 L929.5 2036.8 L938.9 2033 L948.3 2029.3 L957.7 2025.5 L967.1 2021.3 L976.5 2016.8 L985.9 2012.3 L995.3 2007.8 L1004.7 2003.4 L1014.1 1998.9 L1023.5 1994.4 L1032.9 1990 L1042.3 1985.3 L1051.7 1979.9 L1061.1 1974.4 L1070.4 1969 L1079.8 1963.5 L1089.2 1958.1 L1098.6 1952.7 L1108 1947.2 L1117.4 1941.8 L1126.8 1937.2 L1136.2 1933 L1145.6 1928.8 L1155 1924.6 L1164.4 1920.5 L1173.8 1916.3 L1183.2 1912.1 L1192.6 1907.9 L1202 1903.9 L1211.4 1900.5 L1220.8 1897.2 L1230.2 1893.9 L1239.6 1890.6 L1249 1887.3 L1258.4 1884 L1267.8 1880.6 L1277.2 1877.3 L1286.6 1874.5 L1296 1871.9 L1305.4 1869.4 L1314.8 1866.8 L1324.2 1864.3 L1333.6 1861.7 L1343 1859.2 L1352.4 1856.6 L1361.8 1854.1 L1371.2 1851.1 L1380.6 1848.1 L1390 1845.2 L1399.4 1842.2 L1408.8 1838.9 L1418.2 1835.6 L1427.6 1832.4 L1437 1829.6 L1446.4 1827.2 L1455.8 1824.7 L1465.2 1822.2 L1474.6 1819.7 L1484 1817.2 L1493.4 1814.7 L1502.8 1812.2 L1512.2 1809.9 L1521.6 1808 L1531 1806.1 L1540.4 1804.2 L1549.8 1802.3 L1559.2 1800.4 L1568.6 1798.5 L1578 1796.6 L1587.4 1794.7 L1596.8 1793.3 L1606.2 1792.1 L1615.6 1791 L1625 1789.8 L1634.4 1788.6 L1643.8 1787.4 L1653.1 1786.2 L1662.5 1785.1 L1671.9 1783.9 L1681.3 1783 L1690.7 1782.1 L1700.1 1781.1 L1709.5 1780.2 L1718.9 1779.3 L1728.3 1778.3 L1737.7 1777.4 L1747.1 1776.5 L1756.5 1775.8 L1765.9 1775.1 L1775.3 1774.5 L1784.7 1773.9 L1794.1 1773.3 L1803.5 1772.7 L1812.9 1772.1 L1822.3 1771.5 L1831.7 1770.9 L1841.1 1770.6 L1850.5 1770.4 L1859.9 1770.1 L1869.3 1769.9 L1878.7 1769.6 L1888.1 1769.4 L1897.5 1769.1 L1906.9 1768.9 L1916.3 1768.7 L1925.7 1768.7 L1935.1 1768.6 L1944.5 1768.5 L1953.9 1768.4 L1963.3 1768.3 L1972.7 1768.2 L1982.1 1768.1 L1991.5 1768 L2000.9 1767.2 L2010.3 1766.4 L3673.8 1766.4"/>
<path stroke="#000" d="M243.4 2118.4 H2235.8"/>
</g>
<circle cx="2235.8" cy="2118.4" r="22.9" fill="#000"/>
</g>
<rect x="196.4" y="270.6" width="3486.7999999999997" height="1847.8000000000002" fill="none" stroke="#fff" stroke-width="3.33"/>
<g stroke="#fff" stroke-width="3.33">
<path d="M3683.2 2118.4 h14.6"/>
<path d="M3683.2 1910.5 h14.6"/>
<path d="M3683.2 1702.6 h14.6"/>
<path d="M3683.2 1494.7 h14.6"/>
<path d="M3683.2 1286.7 h14.6"/>
<path d="M3683.2 1078.8 h14.6"/>
<path d="M3683.2 870.9 h14.6"/>
<path d="M3683.2 663 h14.6"/>
<path d="M3683.2 455.1 h14.6"/>
</g>
<g font-size="41.67px">
<text x="3712.4" y="2133.7">0</text>
<text x="3712.4" y="1925.8">200</text>
<text x="3712.4" y="1717.9">400</text>
<text x="3712.4" y="1510">600</text>
<text x="3712.4" y="1302">800</text>
<text x="3712.4" y="1094.1">1000</text>
<text x="3712.4" y="886.2">1200</text>
<text x="3712.4" y="678.3">1400</text>
<text x="3712.4" y="470.4">1600</text>
<text x="168" y="2133.7" text-anchor="end">0"</text>
<text x="168" y="1869.7" text-anchor="end">10"</text>
<text x="168" y="1605.6" text-anchor="end">20"</text>
<text x="168" y="1341.5" text-anchor="end">30"</text>
<text x="168" y="1077.5" text-anchor="end">40"</text>
<text x="168" y="813.5" text-anchor="end">50"</text>
<text x="168" y="549.4" text-anchor="end">60"</text>
<text x="243.4" y="2178.2" text-anchor="middle">Oct 1</text>
<text x="534.7" y="2178.2" text-anchor="middle">Nov 1</text>
<text x="807.3" y="2178.2" text-anchor="middle">Dec 1</text>
<text x="1098.6" y="2178.2" text-anchor="middle">Jan 1</text>
<text x="1380.6" y="2178.2" text-anchor="middle">Feb 1</text>
<text x="1671.9" y="2178.2" text-anchor="middle">Mar 1</text>
<text x="1953.9" y="2178.2" text-anchor="middle">Apr 1</text>
<text x="2245.2" y="2178.2" text-anchor="middle">May 1</text>
<text x="2536.6" y="2178.2" text-anchor="middle">Jun 1</text>
<text x="2818.5" y="2178.2" text-anchor="middle">Jul 1</text>
<text x="3109.9" y="2178.2" text-anchor="middle">Aug 1</text>
<text x="3391.9" y="2178.2" text-anchor="middle">Sep 1</text>
</g>
<text x="1884" y="94.4" font-size="83.45px" text-anchor="middle">2020-2021 Accumulated Snowfall For Hatton_9_Se, WA</text>
<text x="1939.8" y="246.2" font-size="50px" text-anchor="middle">GHCN-D ID= USC00453546 | LAT= 46.7225 | LON= -118.6525 | ELEV= 1504' | Period= 1905-2020 | Season To Date Report= 58%</text>
<text x="270" y="329.8" font-size="29.17px">Generated by Jared Rennie (@jjrennie) on: 2021-09-28 08:39 Eastern. Data up to 20200430</text>
<text transform="translate(66.6 1195.5) rotate(-90)" font-size="50px" text-anchor="middle">Accumulated Snowfall (inches)</text>
<text transform="translate(3863.1 1194) rotate(90)" font-size="50px" text-anchor="middle">Accumulated Snowfall (mm)</text>
<rect x="196.1" y="2217.7" width="3486.6" height="88.3" rx="10" ry="10" fill="#666" stroke="#a3a3a3" stroke-width="4.17"/>
<g stroke-width="21" fill="none">
<path stroke="#08306b" d="M205.8 2259.1 h121"/>
<path stroke="#6baed6" d="M1104.9 2259.1 h121"/>
<path stroke="#2171b5" d="M1973.8 2259.1 h121"/>
<path stroke="#000" d="M2861.9 2259.1 h121"/>
</g>
<g font-size="50.2px">
<text x="354.5" y="2277.3">Max&#160;(1915-1916):&#160;&#160;&#160;58.1"</text>
<text x="1253.7" y="2277.3">Min&#160;(1991-1992):&#160;&#160;&#160;&#160;0.4"</text>
<text x="2124.4" y="2277.3">Avg&#160;(1991-2020):&#160;&#160;&#160;13.5"</text>
<text x="3010.7" y="2277.3">Current&#160;(2020-2021):&#160;0.0"</text>
</g>
</svg></body></html>
